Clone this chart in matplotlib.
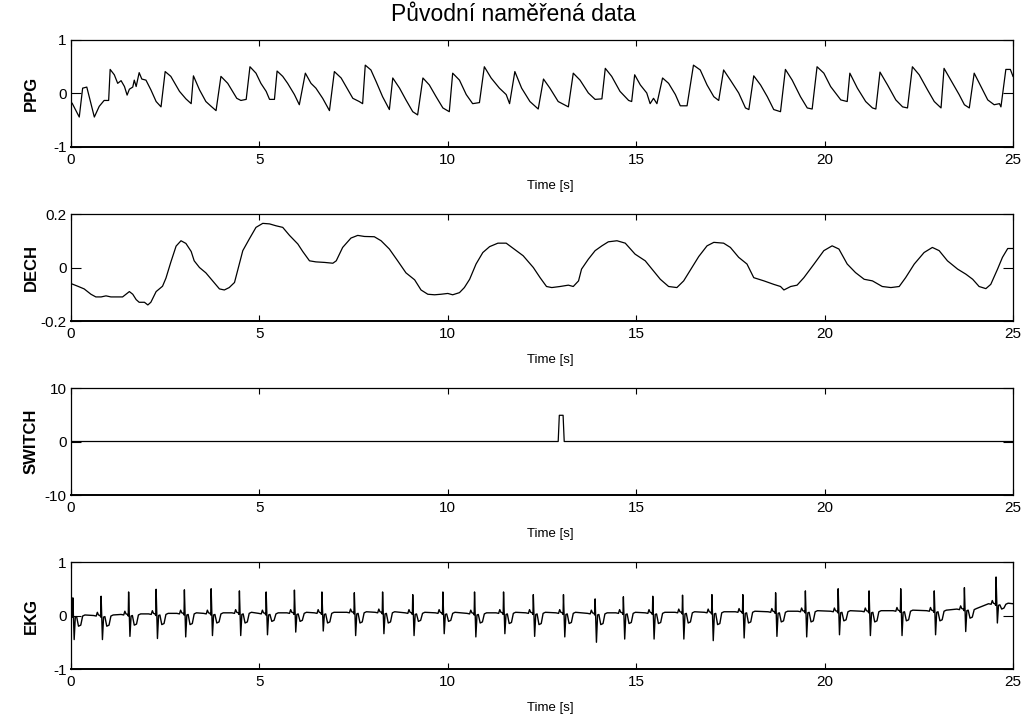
import numpy as np
import matplotlib
matplotlib.use("Agg")
import matplotlib.pyplot as plt

plt.rcParams['font.family'] = ['Liberation Sans', 'DejaVu Sans']
plt.rcParams['axes.unicode_minus'] = False

# PPG - vertices of the pulse wave (time [s], value)
ppg_t = [0.00, 0.03, 0.22, 0.31, 0.42, 0.62, 0.75, 0.88, 1.00, 1.04, 1.15, 1.24, 1.33, 1.42, 1.49,
         1.55, 1.64, 1.68, 1.73, 1.81, 1.88, 1.99, 2.12, 2.26, 2.39, 2.50, 2.65, 2.88, 3.05, 3.19,
         3.25, 3.41, 3.58, 3.72, 3.85, 3.98, 4.16, 4.29, 4.40, 4.51, 4.65, 4.75, 4.91, 5.04, 5.18,
         5.27, 5.40, 5.47, 5.62, 5.75, 5.93, 6.06, 6.22, 6.37, 6.50, 6.68, 6.86, 6.99, 7.17, 7.35,
         7.48, 7.65, 7.74, 7.81, 7.96, 8.10, 8.27, 8.45, 8.54, 8.72, 8.89, 9.07, 9.20, 9.34, 9.51,
         9.69, 9.87, 10.04, 10.13, 10.31, 10.49, 10.66, 10.84, 10.97, 11.15, 11.37, 11.55, 11.64,
         11.78, 11.96, 12.18, 12.40, 12.54, 12.71, 12.93, 13.20, 13.33, 13.51, 13.73, 13.91, 14.09,
         14.18, 14.35, 14.57, 14.80, 14.88, 14.96, 15.11, 15.28, 15.37, 15.46, 15.55, 15.70, 15.86,
         16.04, 16.17, 16.35, 16.52, 16.70, 16.88, 17.06, 17.19, 17.32, 17.50, 17.72, 17.90, 17.99,
         18.12, 18.30, 18.48, 18.65, 18.83, 18.96, 19.14, 19.36, 19.54, 19.67, 19.80, 19.98, 20.16,
         20.43, 20.60, 20.67, 20.87, 21.09, 21.27, 21.36, 21.47, 21.67, 21.89, 22.07, 22.20, 22.33,
         22.51, 22.73, 22.91, 23.09, 23.17, 23.35, 23.57, 23.71, 23.84, 23.97, 24.15, 24.33, 24.50,
         24.64, 24.68, 24.81, 24.93, 25.00]
ppg_v = [-0.17, -0.18, -0.44, 0.10, 0.12, -0.44, -0.24, -0.13, -0.13, 0.45, 0.35, 0.19, 0.24, 0.13, -0.03,
         0.08, 0.12, 0.25, 0.13, 0.39, 0.27, 0.25, 0.07, -0.15, -0.25, 0.41, 0.32, 0.04, -0.10, -0.19,
         0.33, 0.07, -0.15, -0.24, -0.32, 0.32, 0.19, 0.04, -0.09, -0.13, -0.11, 0.50, 0.38, 0.19, 0.04,
         -0.11, -0.11, 0.42, 0.32, 0.19, -0.02, -0.21, 0.38, 0.19, 0.10, -0.09, -0.32, 0.41, 0.29, 0.07,
         -0.09, -0.15, -0.19, 0.53, 0.44, 0.22, -0.06, -0.30, 0.29, 0.10, -0.12, -0.34, -0.40, 0.29, 0.16,
         -0.06, -0.27, -0.34, 0.38, 0.25, -0.02, -0.19, -0.17, 0.50, 0.29, 0.10, -0.02, -0.19,
         0.41, 0.10, -0.15, -0.29, 0.27, 0.10, -0.15, -0.25, 0.38, 0.25, 0.01, -0.11, -0.10,
         0.47, 0.32, 0.04, -0.13, -0.15, 0.35, 0.16, 0.01, -0.19, -0.09, -0.19, 0.29, 0.19,
         -0.02, -0.23, -0.23, 0.53, 0.44, 0.16, -0.06, -0.13, 0.44, 0.25, 0.01, -0.27, -0.30,
         0.33, 0.16, -0.06, -0.30, -0.34, 0.45, 0.25, -0.06, -0.27, -0.29, 0.50, 0.38, 0.13,
         -0.12, -0.15, 0.38, 0.10, -0.15, -0.27, -0.29, 0.40, 0.16, -0.12, -0.25, -0.27, 0.50,
         0.35, 0.07, -0.15, -0.27, 0.47, 0.25, -0.02, -0.21, -0.27, 0.38, 0.13, -0.12, -0.21,
         -0.19, -0.25, 0.45, 0.45, 0.32]

# DECH - respiration
dech_t = [0.00, 0.18, 0.35, 0.53, 0.66, 0.80, 0.93, 1.06, 1.37, 1.55, 1.64, 1.73, 1.81, 1.95, 2.04,
          2.12, 2.26, 2.43, 2.52, 2.65, 2.79, 2.92, 3.05, 3.19, 3.27, 3.41, 3.58, 3.76, 3.94, 4.07,
          4.20, 4.34, 4.42, 4.56, 4.73, 4.91, 5.09, 5.27, 5.44, 5.62, 5.80, 6.02, 6.15, 6.33, 6.50,
          6.73, 6.95, 7.04, 7.21, 7.43, 7.61, 7.79, 8.05, 8.23, 8.45, 8.67, 8.89, 9.12, 9.29, 9.47,
          9.65, 9.82, 10.00, 10.13, 10.31, 10.44, 10.58, 10.75, 10.93, 11.11, 11.33, 11.55, 11.75,
          12.00, 12.27, 12.45, 12.62, 12.76, 12.98, 13.20, 13.33, 13.47, 13.55, 13.73, 13.91, 14.09,
          14.26, 14.49, 14.71, 14.97, 15.24, 15.42, 15.64, 15.86, 16.08, 16.26, 16.48, 16.66, 16.88,
          17.06, 17.32, 17.50, 17.72, 17.94, 18.12, 18.39, 18.65, 18.83, 18.92, 19.10, 19.27, 19.45,
          19.72, 19.98, 20.20, 20.38, 20.60, 20.82, 21.05, 21.27, 21.53, 21.76, 21.98, 22.15, 22.38,
          22.64, 22.86, 23.04, 23.26, 23.53, 23.75, 23.93, 24.10, 24.28, 24.41, 24.59, 24.72, 24.86,
          25.00]
dech_v = [-0.060, -0.070, -0.080, -0.100, -0.110, -0.110, -0.106, -0.110, -0.110, -0.090, -0.100, -0.120, -0.130, -0.130, -0.140,
          -0.130, -0.090, -0.070, -0.040, 0.020, 0.080, 0.100, 0.090, 0.060, 0.025, 0.000, -0.020, -0.050, -0.080, -0.084,
          -0.075, -0.056, -0.013, 0.063, 0.106, 0.150, 0.165, 0.163, 0.156, 0.150, 0.120, 0.088, 0.060, 0.025, 0.021,
          0.019, 0.016, 0.025, 0.075, 0.110, 0.120, 0.116, 0.115, 0.100, 0.069, 0.025, -0.020, -0.046, -0.084, -0.100,
          -0.102, -0.100, -0.097, -0.102, -0.094, -0.075, -0.044, 0.013, 0.056, 0.078, 0.091, 0.091, 0.070,
          0.044, 0.000, -0.038, -0.071, -0.075, -0.071, -0.066, -0.071, -0.050, -0.006, 0.031, 0.063, 0.081,
          0.096, 0.100, 0.091, 0.050, 0.025, -0.006, -0.044, -0.071, -0.075, -0.050, 0.000, 0.041, 0.081,
          0.094, 0.091, 0.075, 0.038, 0.013, -0.038, -0.050, -0.063, -0.071, -0.084, -0.071, -0.066, -0.038,
          0.013, 0.063, 0.081, 0.069, 0.013, -0.019, -0.044, -0.050, -0.071, -0.075, -0.071, -0.038, 0.013,
          0.056, 0.075, 0.063, 0.025, -0.006, -0.025, -0.044, -0.071, -0.079, -0.063, -0.006, 0.038, 0.071,
          0.071]

# SWITCH - single marker pulse
switch_t = [0.0, 12.93, 12.96, 13.06, 13.09, 25.0]
switch_v = [0.0, 0.0, 4.9, 4.9, 0.0, 0.0]

# EKG - per beat: R time, R peak, S trough, baseline, T-wave dip
ekg_r_t = [0.05, 0.80, 1.53, 2.26, 3.01, 3.72, 4.47, 5.18, 5.93, 6.66, 7.52, 8.27, 9.07, 9.87, 10.71, 11.48,
           12.27, 13.07, 13.91, 14.66, 15.44, 16.23, 17.01, 17.83, 18.70, 19.49, 20.36, 21.18, 22.02, 22.91, 23.71, 24.55]
ekg_r = [0.33, 0.36, 0.44, 0.49, 0.48, 0.50, 0.46, 0.44, 0.475, 0.44, 0.425, 0.44, 0.39, 0.44, 0.44, 0.44,
         0.39, 0.39, 0.31, 0.35, 0.36, 0.38, 0.39, 0.39, 0.425, 0.46, 0.50, 0.46, 0.50, 0.46, 0.52, 0.72]
ekg_s = [-0.45, -0.45, -0.39, -0.43, -0.40, -0.375, -0.375, -0.36, -0.31, -0.29, -0.375, -0.34, -0.375, -0.34, -0.40, -0.34,
         -0.39, -0.40, -0.50, -0.44, -0.44, -0.44, -0.47, -0.42, -0.39, -0.40, -0.36, -0.375, -0.375, -0.36, -0.30, -0.14]
ekg_base = [0.00, 0.00, 0.02, 0.03, 0.04, 0.04, 0.05, 0.04, 0.05, 0.05, 0.06, 0.06, 0.05, 0.05, 0.04, 0.05,
            0.05, 0.05, 0.04, 0.05, 0.05, 0.06, 0.06, 0.07, 0.07, 0.08, 0.08, 0.08, 0.09, 0.09, 0.12, 0.22]
ekg_dip = [-0.20, -0.20, -0.18, -0.17, -0.17, -0.14, -0.14, -0.11, -0.11, -0.14, -0.14, -0.14, -0.11, -0.11, -0.14, -0.15,
           -0.17, -0.15, -0.17, -0.15, -0.15, -0.14, -0.17, -0.14, -0.12, -0.12, -0.10, -0.12, -0.10, -0.10, -0.05, 0.12]


def beat(tr, r, s, b, d):
    # one QRS complex with P bump and inverted T wave
    dt = [-0.20, -0.13, -0.10, -0.07, -0.03, -0.01, 0.0, 0.035, 0.065, 0.10, 0.15, 0.21, 0.26, 0.32]
    v = [b, b - 0.01, b + 0.06, b + 0.01, b, b - 0.03, r, s, b - 0.03, b - 0.02, d, d + 0.02, b - 0.01, b + 0.01]
    return [tr + x for x in dt], v


ekg_t, ekg_v = [], []
for k in range(len(ekg_r_t)):
    bt, bv = beat(ekg_r_t[k], ekg_r[k], ekg_s[k], ekg_base[k], ekg_dip[k])
    ekg_t += bt
    ekg_v += bv
ekg_t.append(25.0)
ekg_v.append(ekg_base[-1])

signals = [
    ('PPG', ppg_t, ppg_v, [-1, 0, 1], ['-1', '0', '1']),
    ('DECH', dech_t, dech_v, [-0.2, 0, 0.2], ['-0.2', '0', '0.2']),
    ('SWITCH', switch_t, switch_v, [-10, 0, 10], ['-10', '0', '10']),
    ('EKG', ekg_t, ekg_v, [-1, 0, 1], ['-1', '0', '1']),
]

fig = plt.figure(figsize=(10.3, 7.22), dpi=100)
left, width, height = 0.0689, 0.9146, 0.1482
bottoms = [0.7964, 0.5554, 0.3144, 0.0734]

for (name, t, v, yt, ytl), b in zip(signals, bottoms):
    ax = fig.add_axes([left, b, width, height])
    ax.plot(t, v, color='black', lw=1.0 if name == 'EKG' else 0.9)
    ax.set_xlim(0, 25)
    ax.set_ylim(yt[0], yt[-1])
    ax.set_xticks([0, 5, 10, 15, 20, 25])
    ax.set_yticks(yt)
    ax.set_yticklabels(ytl)
    ax.tick_params(direction='in', top=True, right=True, labelsize=11, width=0.8)
    ax.tick_params(axis='x', length=4.5, pad=4)
    ax.tick_params(axis='y', length=7, pad=3)
    for sp in ax.spines.values():
        sp.set_linewidth(0.9)
    ax.spines['bottom'].set_linewidth(1.4)
    ax.set_xlabel('Time [s]', fontsize=9.5)
    ax.xaxis.set_label_coords(0.5085, -0.31)
    ax.set_ylabel(name, fontsize=12, fontweight='bold')
    ax.yaxis.set_label_coords(-0.034, 0.5)
    if name == 'PPG':
        ax.set_title('Původní naměřená data', fontsize=16.5, x=0.47, pad=14)

fig.savefig('out.png', dpi=100)
